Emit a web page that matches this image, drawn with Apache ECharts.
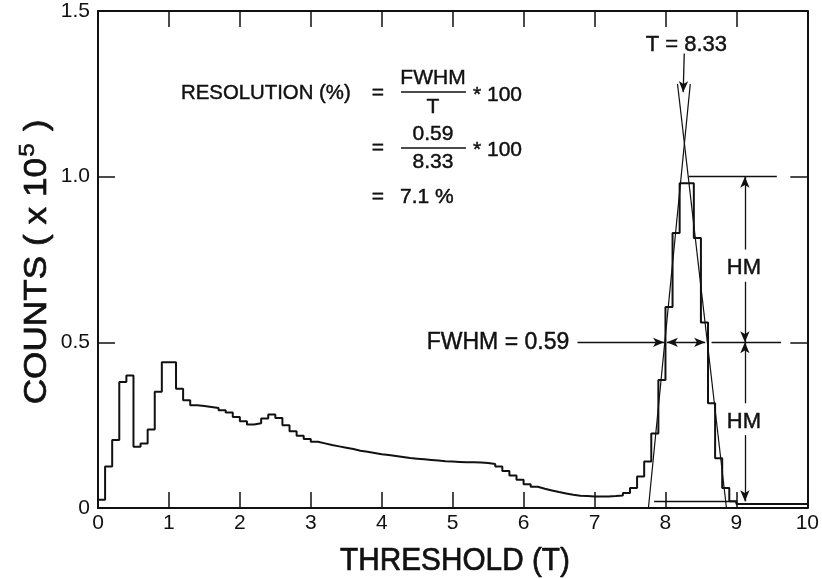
<!DOCTYPE html>
<html><head><meta charset="utf-8">
<script src="https://cdn.jsdelivr.net/npm/echarts@6/dist/echarts.min.js"></script>
<style>html,body{margin:0;padding:0;background:#fff}#c{width:822px;height:579px}</style>
</head><body><div id="c"></div>
<script>
// ---- data ----
const binWidth = 0.1;           // histogram channel width (threshold units)
const counts = [               // counts (x 10^5) per channel, starting at threshold 0
  0.025,0.125,0.205,0.38,0.40,0.185,0.195,0.237,0.351,0.44,
  0.44,0.36,0.325,0.31,0.308,0.305,0.302,0.295,0.288,0.275,
  0.262,0.252,0.256,0.27,0.282,0.272,0.25,0.232,0.218,0.208,
  0.20,0.195,0.19,0.186,0.182,0.178,0.173,0.17,0.166,0.162,
  0.16,0.157,0.154,0.151,0.149,0.147,0.145,0.143,0.141,0.14,
  0.139,0.138,0.138,0.137,0.136,0.133,0.125,0.112,0.098,0.085,
  0.072,0.064,0.058,0.053,0.048,0.044,0.04,0.037,0.036,0.035,
  0.035,0.035,0.036,0.038,0.045,0.06,0.095,0.14,0.225,0.386,
  0.607,0.83,0.98,0.98,0.815,0.56,0.316,0.15,0.06,0.02,
  0.012,0.012,0.012,0.012,0.012,0.012,0.012,0.012,0.012,0.012
];
const xTicks = [0,1,2,3,4,5,6,7,8,9,10];
const yTicks = [0,0.5,1.0,1.5];
const fitLeft  = [[7.76,0],[8.35,1.28]];    // straight-line fit, rising edge
const fitRight = [[8.17,1.28],[8.86,0]];    // straight-line fit, falling edge
const T = 8.33, FWHM = 0.59, peakLevel = 1.0, halfLevel = 0.5, resolutionPct = 7.1;
const fwhmLeft = 7.99;
const baseLevel = 0.02;
const hmX = 9.12;

// ---- build ----
const xMin = xTicks[0], xMax = xTicks[xTicks.length-1];
const histData = counts.map((v,i)=>[+(i*binWidth).toFixed(3), v]);
histData.push([xMax, counts[counts.length-1]]);

const FONT = '"Liberation Sans", Arial, Helvetica, sans-serif';
const black = '#111';
const arrowEnd = (a,b)=>[{coord:a, symbol:'none'},{coord:b, symbol:'arrow'}];
const plain = (a,b)=>[{coord:a, symbol:'none'},{coord:b, symbol:'none'}];
const both = (a,b)=>[{coord:a, symbol:'arrow'},{coord:b, symbol:'arrow'}];

const annotationLines = [
  plain([T, peakLevel],[9.57, peakLevel]),
  arrowEnd([6.76, halfLevel],[fwhmLeft-0.01, halfLevel]),
  both([fwhmLeft+0.03, halfLevel],[fwhmLeft+FWHM-0.02, halfLevel]),
  plain([8.65, halfLevel],[9.63, halfLevel]),
  plain([7.84, baseLevel],[9.0, baseLevel]),
  arrowEnd([8.265,1.372],[8.25,1.255]),
  arrowEnd([hmX,0.78],[hmX,peakLevel]),
  arrowEnd([hmX,0.683],[hmX,halfLevel]),
  arrowEnd([hmX,0.316],[hmX,halfLevel]),
  arrowEnd([hmX,0.22],[hmX,baseLevel])
];

const axisCommon = {
  type:'value', min:xMin, max:xMax, interval:1,
  axisLine:{show:true, onZero:false, lineStyle:{color:black, width:2}},
  axisTick:{show:true, inside:true, length:16, lineStyle:{color:black, width:1.5}},
  splitLine:{show:false}
};
const yCommon = {
  type:'value', min:yTicks[0], max:yTicks[yTicks.length-1], interval:0.5,
  axisLine:{show:true, onZero:false, lineStyle:{color:black, width:2}},
  axisTick:{show:true, inside:true, length:17, lineStyle:{color:black, width:1.5}},
  splitLine:{show:false}
};

const chart = echarts.init(document.getElementById('c'));
chart.setOption({
  animation:false,
  backgroundColor:'#fff',
  grid:{left:98, right:11, top:11, bottom:71},
  xAxis:[
    Object.assign({}, axisCommon, {position:'bottom',
      axisLabel:{color:black, fontSize:21, fontFamily:FONT, margin:5}}),
    Object.assign({}, axisCommon, {position:'top', axisLabel:{show:false}})
  ],
  yAxis:[
    Object.assign({}, yCommon, {position:'left',
      axisLabel:{color:black, fontSize:21, fontFamily:FONT, margin:8,
        formatter:v=> v===0 ? '0' : v.toFixed(1)}}),
    Object.assign({}, yCommon, {position:'right', axisLabel:{show:false}})
  ],
  series:[
    {type:'line', step:'end', data:histData, showSymbol:false, symbol:'none',
     lineStyle:{color:black, width:2}, silent:true},
    {type:'line', data:fitLeft, showSymbol:false, symbol:'none',
     lineStyle:{color:black, width:1.2}, silent:true},
    {type:'line', data:fitRight, showSymbol:false, symbol:'none',
     lineStyle:{color:black, width:1.2}, silent:true},
    {type:'line', data:[], silent:true,
     markLine:{silent:true, symbolSize:[7,11], label:{show:false},
       lineStyle:{color:black, width:1.3, type:'solid'},
       emphasis:{disabled:true}, data:annotationLines}}
  ]
});

// ---- text annotations ----
const P = (x,y)=>chart.convertToPixel({gridIndex:0},[x,y]);
const txt = (text,x,y,opt,extra)=>Object.assign({type:'text', x:x, y:y, silent:true,
  style:Object.assign({text:text, fill:black, stroke:black, lineWidth:0.45,
    font:'21px '+FONT, align:'left', verticalAlign:'middle'}, opt||{})}, extra||{});

const hm1 = P(hmX, 0.725), hm2 = P(hmX, 0.26);
const fw = P(6.7, halfLevel);
const tl = P(8.28, 1.38);
const fs = 21;
const graphics = [
  // axis titles
  {type:'text', x:455, y:561, scaleX:0.93, silent:true,
   style:{text:'THRESHOLD (T)', fill:black, stroke:black, lineWidth:0.7,
     font:'32px '+FONT, align:'center', verticalAlign:'middle'}},
  {type:'text', x:37, y:262, rotation:Math.PI/2, scaleX:1.1, silent:true,
   style:{text:'{a|COUNTS ( x 10}{s|5}{a| )}', fill:black, align:'center', verticalAlign:'middle',
     rich:{a:{font:'32px '+FONT, fill:black, stroke:black, lineWidth:0.7},
           s:{font:'22px '+FONT, fill:black, stroke:black, lineWidth:0.5, padding:[0,2,18,1]}}}},
  // T label
  txt('T = '+T.toFixed(2), tl[0]+1, 45, {align:'center', font:'22px '+FONT}),
  // FWHM label
  txt('FWHM = '+FWHM.toFixed(2), fw[0]-4, fw[1], {align:'right', font:'23px '+FONT}),
  // HM labels
  txt('HM', hm1[0]-1, hm1[1], {align:'center', font:'22px '+FONT}),
  txt('HM', hm2[0]-1, hm2[1], {align:'center', font:'22px '+FONT}),
  // formula
  txt('RESOLUTION (%)', 181, 93, {font:fs+'px '+FONT}, {scaleX:0.97}),
  txt('=', 378, 93, {align:'center', font:fs+'px '+FONT}),
  txt('FWHM', 433, 78, {align:'center', font:fs+'px '+FONT}),
  {type:'line', silent:true, shape:{x1:401,y1:92,x2:466,y2:92}, style:{stroke:black, lineWidth:1.6}},
  txt('T', 433, 107, {align:'center', font:fs+'px '+FONT}),
  txt('* 100', 473, 95, {font:fs+'px '+FONT}),
  txt('=', 378, 148, {align:'center', font:fs+'px '+FONT}),
  txt(FWHM.toFixed(2), 433, 134, {align:'center', font:fs+'px '+FONT}),
  {type:'line', silent:true, shape:{x1:401,y1:148,x2:466,y2:148}, style:{stroke:black, lineWidth:1.6}},
  txt(T.toFixed(2), 433, 162, {align:'center', font:fs+'px '+FONT}),
  txt('* 100', 473, 150, {font:fs+'px '+FONT}),
  txt('=', 378, 197, {align:'center', font:fs+'px '+FONT}),
  txt(resolutionPct.toFixed(1)+' %', 400, 197, {font:fs+'px '+FONT})
];
chart.setOption({graphic:graphics});
</script></body></html>
